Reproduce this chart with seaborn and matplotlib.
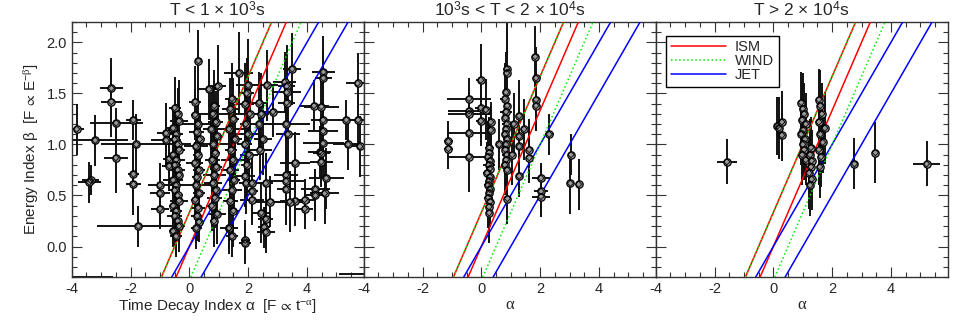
import numpy as np
import pandas as pd
import matplotlib
matplotlib.use('Agg')
import matplotlib.pyplot as plt
from matplotlib.lines import Line2D
from matplotlib.ticker import MultipleLocator
import seaborn as sns

# ---- panel 1 : T < 1e3 s  (alpha, beta, alpha err, beta err) ----
p1_alpha = [-3.83, -3.20, -2.65, -2.65, -2.49, -1.90, -1.80, -2.50, -3.36, -3.40,
            -1.90, -1.90, -1.00, -1.00, -1.00, -1.73, -0.79, -0.79, -0.68, -0.68,
            -0.50, -0.40, -0.35, -0.55, -0.45, -0.50, -0.40, -0.35, -0.55, -0.45,
            -0.50, -0.40, -0.35, -0.55, -0.45, -0.50, -0.40, -0.35, -0.55, -0.45,
            -0.50, -0.40, -0.35, -0.55, -0.45,
            0.31, 0.20, 0.20, 0.30, 0.25, 0.35, 0.22, 0.28, 0.18, 0.32,
            0.25, 0.23, 0.34, 0.20, 0.30, 0.27, 0.33, 0.24,
            0.96, 0.67, 0.85, 0.80, 0.90, 0.75, 0.95, 0.82, 0.88, 0.78,
            0.92, 0.85, 0.80, 0.90, 0.86, 0.76, 0.95, 0.84,
            1.68, 1.45, 1.40, 1.50, 1.35, 1.55, 1.42, 1.48, 1.38, 1.52,
            1.45, 1.40, 1.50, 1.35, 1.45,
            2.00, 1.95, 1.90, 2.05, 1.92, 1.98, 1.88, 2.02, 1.95, 1.90,
            1.93, 2.13, 2.13, 2.13, 1.90, 1.90,
            2.63, 2.38, 2.45, 2.38, 2.50, 2.40, 2.60, 2.76, 2.45, 2.60,
            2.55, 2.60,
            3.24, 3.31, 3.31, 3.31, 3.30, 3.35, 3.60, 3.29, 3.29, 3.29,
            3.60, 3.41, 3.50, 2.84, 3.92, 3.92,
            4.56, 4.56, 4.24, 4.49, 4.55, 4.55, 4.55, 4.43, 4.49, 4.49,
            4.66, 4.29, 4.29, 4.60,
            5.72, 5.40, 5.80, 5.74, 5.34, 1.35, -4.50, 6.30]
p1_beta = [1.15, 1.04, 1.55, 1.42, 1.21, 1.24, 1.00, 0.87, 0.65, 0.63,
           0.71, 0.61, 0.60, 0.52, 0.37, 0.20, 1.11, 1.04, 0.86, 0.79,
           1.36, 1.30, 1.23, 1.16, 1.10, 1.05, 1.00, 0.95, 0.90, 0.85,
           0.80, 0.75, 0.70, 0.65, 0.60, 0.55, 0.50, 0.45, 0.40, 0.35,
           0.30, 0.25, 0.20, 0.15, 0.10,
           1.82, 1.42, 1.29, 1.20, 1.12, 1.05, 0.98, 0.90, 0.82, 0.75,
           0.68, 0.60, 0.52, 0.46, 0.38, 0.30, 0.24, 0.18,
           1.57, 1.54, 1.38, 1.30, 1.22, 1.15, 1.08, 1.00, 0.92, 0.85,
           0.78, 0.70, 0.62, 0.55, 0.48, 0.40, 0.32, 0.25,
           1.70, 1.45, 1.35, 1.25, 1.15, 1.05, 0.95, 0.85, 0.75, 0.65,
           0.55, 0.45, 0.35, 0.18, 0.10,
           1.58, 1.50, 1.40, 1.30, 1.20, 1.10, 1.00, 0.90, 0.80, 0.69,
           0.62, 0.62, 0.54, 0.46, 0.06, 0.03,
           1.58, 1.41, 1.30, 1.20, 1.05, 0.95, 0.62, 0.44, 0.33, 0.27,
           0.19, 0.14,
           1.61, 1.57, 1.51, 1.41, 1.20, 1.10, 0.82, 0.70, 0.64, 0.56,
           0.45, 0.44, 1.74, 1.32, 0.46, 0.37,
           1.71, 1.65, 1.38, 1.37, 1.24, 1.13, 1.01, 0.93, 0.92, 0.83,
           0.67, 0.56, 0.50, 0.52,
           1.60, 1.00, 0.98, 1.24, 1.24, 0.18, -0.295, -0.27]
p1_aerr = [0.25, 1.10, 0.40, 0.35, 0.90, 0.25, 1.20, 0.40, 0.30, 0.40,
           0.20, 0.25, 0.40, 0.35, 0.30, 1.40, 0.30, 0.50, 0.20, 0.25,
           0.20, 0.15, 0.30, 0.20, 0.25, 0.15, 0.45, 0.20, 0.15, 0.30,
           0.20, 0.25, 0.15, 0.35, 0.20, 0.15, 0.20, 0.30, 0.15, 0.20,
           0.25, 0.15, 0.20, 0.15, 0.20,
           0.10, 0.20, 0.15, 0.60, 0.25, 0.20, 0.40, 0.15, 0.30, 0.20,
           0.15, 0.50, 0.20, 0.15, 0.25, 0.20, 0.15, 0.20,
           0.30, 0.40, 0.20, 0.60, 0.25, 0.30, 0.20, 0.50, 0.15, 0.25,
           0.20, 0.40, 0.30, 0.15, 0.25, 0.20, 0.30, 0.15,
           0.50, 0.25, 0.30, 0.20, 0.60, 0.25, 0.20, 0.40, 0.30, 0.20,
           0.35, 0.25, 0.20, 0.30, 0.20,
           0.40, 0.25, 0.30, 0.50, 0.20, 0.40, 0.25, 0.30, 0.20, 0.35,
           0.25, 0.30, 0.20, 0.40, 0.15, 0.20,
           0.40, 0.30, 0.25, 0.50, 0.30, 0.40, 0.25, 0.60, 0.30, 0.25,
           0.20, 0.30,
           0.40, 0.30, 0.50, 0.30, 0.80, 0.40, 0.50, 0.40, 0.60, 0.30,
           0.50, 0.70, 0.30, 0.40, 0.35, 0.30,
           0.40, 0.30, 0.50, 0.60, 0.40, 0.50, 0.70, 0.40, 0.30, 0.40,
           0.60, 0.50, 0.40, 0.50,
           0.40, 0.50, 0.40, 0.30, 0.40, 0.20, 1.90, 1.20]
p1_berr = [0.25, 0.25, 0.30, 0.35, 0.15, 0.20, 0.30, 0.35, 0.15, 0.20,
           0.30, 0.30, 0.15, 0.30, 0.20, 0.20, 0.30, 0.25, 0.30, 0.25,
           0.30, 0.25, 0.40, 0.20, 0.30, 0.35, 0.25, 0.30, 0.40, 0.20,
           0.30, 0.25, 0.35, 0.30, 0.20, 0.25, 0.40, 0.30, 0.20, 0.25,
           0.30, 0.20, 0.25, 0.15, 0.20,
           0.30, 0.35, 0.25, 0.40, 0.30, 0.25, 0.35, 0.30, 0.20, 0.30,
           0.25, 0.30, 0.35, 0.20, 0.30, 0.25, 0.20, 0.20,
           0.40, 0.30, 0.35, 0.25, 0.30, 0.40, 0.30, 0.25, 0.35, 0.30,
           0.25, 0.30, 0.20, 0.35, 0.30, 0.25, 0.30, 0.25,
           0.40, 0.35, 0.30, 0.40, 0.30, 0.35, 0.25, 0.30, 0.35, 0.30,
           0.25, 0.30, 0.35, 0.20, 0.20,
           0.45, 0.35, 0.40, 0.30, 0.35, 0.30, 0.40, 0.30, 0.35, 0.30,
           0.30, 0.25, 0.30, 0.25, 0.20, 0.20,
           0.35, 0.30, 0.40, 0.30, 0.35, 0.30, 0.30, 0.25, 0.30, 0.25,
           0.20, 0.20,
           0.30, 0.40, 0.30, 0.35, 0.30, 0.40, 0.30, 0.25, 0.30, 0.35,
           0.25, 0.30, 0.35, 0.25, 0.20, 0.20,
           0.35, 0.30, 0.25, 0.30, 0.40, 0.30, 0.35, 0.25, 0.30, 0.25,
           0.30, 0.20, 0.25, 0.30,
           0.30, 0.25, 0.30, 0.25, 0.20, 0.25, 0.0, 0.0]

# ---- panel 2 : 1e3 s < T < 2e4 s ----
p2_alpha = [-0.02, 0.86, 0.86, 1.83, -0.42, -0.42, -0.42, -0.02, 0.15, -0.02,
            0.32, 0.32, -0.42, -1.12, -1.12, -0.42, 0.27, 0.61,
            0.27, 0.22, 0.30, 0.25, 0.28, 0.20, 0.30, 0.26, 0.23, 0.29,
            0.27, 0.24, 0.30, 0.26, 0.27,
            0.84, 0.80, 0.88, 0.84, 0.82, 0.86, 0.84, 0.80, 0.88, 0.84,
            0.82, 0.86, 0.84, 0.80, 0.88, 0.89,
            1.29, 1.29, 1.29, 1.29, 1.63, 1.63, 1.86, 1.86, 1.86, 2.31,
            2.03, 2.03, 2.03, 3.03, 3.31, 3.05, 1.10, 1.05, 1.45]
p2_beta = [1.63, 1.74, 1.70, 1.86, 1.45, 1.33, 1.30, 1.36, 1.34, 1.23,
           1.22, 1.14, 1.11, 1.03, 0.96, 0.88, 0.97, 1.00,
           0.92, 0.88, 0.84, 0.80, 0.76, 0.72, 0.68, 0.64, 0.60, 0.56,
           0.52, 0.48, 0.44, 0.39, 0.33,
           1.51, 1.45, 1.38, 1.32, 1.26, 1.20, 1.15, 1.10, 1.05, 1.00,
           0.95, 0.90, 0.85, 0.80, 0.75, 0.47,
           1.28, 1.08, 0.98, 0.69, 0.95, 0.87, 1.65, 1.44, 1.38, 1.10,
           0.67, 0.54, 0.49, 0.62, 0.61, 0.90, 1.20, 0.90, 1.15]
p2_aerr = [0.15, 0.10, 0.10, 0.10, 0.75, 0.70, 0.70, 0.20, 0.15, 0.15,
           0.10, 0.10, 0.75, 0.15, 0.15, 0.70, 0.15, 0.10,
           0.10, 0.15, 0.10, 0.20, 0.10, 0.15, 0.10, 0.10, 0.15, 0.10,
           0.10, 0.15, 0.10, 0.10, 0.10,
           0.10, 0.15, 0.10, 0.20, 0.10, 0.15, 0.10, 0.10, 0.15, 0.10,
           0.10, 0.15, 0.10, 0.10, 0.10, 0.10,
           0.10, 0.10, 0.10, 0.10, 0.10, 0.10, 0.10, 0.10, 0.10, 0.15,
           0.30, 0.25, 0.30, 0.10, 0.10, 0.10, 0.10, 0.10, 0.10]
p2_berr = [0.35, 0.45, 0.40, 0.30, 0.20, 0.20, 0.15, 0.30, 0.30, 0.25,
           0.20, 0.20, 0.40, 0.20, 0.20, 0.35, 0.30, 0.25,
           0.30, 0.35, 0.30, 0.25, 0.35, 0.30, 0.25, 0.30, 0.35, 0.30,
           0.25, 0.30, 0.25, 0.30, 0.30,
           0.40, 0.35, 0.30, 0.40, 0.35, 0.30, 0.35, 0.30, 0.40, 0.30,
           0.35, 0.30, 0.25, 0.30, 0.25, 0.25,
           0.35, 0.30, 0.30, 0.20, 0.30, 0.25, 0.30, 0.30, 0.25, 0.20,
           0.15, 0.25, 0.20, 0.30, 0.25, 0.20, 0.30, 0.30, 0.30]

# ---- panel 3 : T > 2e4 s ----
p3_alpha = [-1.58, 0.14, 0.20, 0.29, 0.29,
            0.95, 1.00, 1.05, 0.98, 1.10, 1.02, 0.95, 1.08, 1.00, 1.05,
            0.98, 1.10,
            1.28, 1.25, 1.30, 1.28, 1.22, 1.30, 1.25,
            1.55, 1.60, 1.65, 1.55, 1.75, 1.60, 1.68, 1.55, 1.62, 1.58,
            2.76, 3.47, 5.21]
p3_beta = [0.83, 1.18, 1.16, 1.22, 1.09,
           1.41, 1.35, 1.30, 1.24, 1.20, 1.14, 1.10, 1.05, 1.00, 0.95,
           0.90, 0.85,
           0.97, 0.90, 0.84, 0.78, 0.72, 0.66, 0.60,
           1.44, 1.38, 1.30, 1.22, 1.16, 1.10, 1.02, 0.95, 0.88, 0.78,
           0.81, 0.92, 0.81]
p3_aerr = [0.34, 0.05, 0.05, 0.05, 0.05,
           0.05, 0.08, 0.05, 0.05, 0.05, 0.08, 0.05, 0.05, 0.05, 0.05,
           0.05, 0.05,
           0.05, 0.05, 0.05, 0.05, 0.05, 0.05, 0.05,
           0.05, 0.05, 0.05, 0.05, 0.05, 0.05, 0.05, 0.05, 0.05, 0.05,
           0.05, 0.05, 0.45]
p3_berr = [0.22, 0.28, 0.30, 0.30, 0.25,
           0.30, 0.35, 0.30, 0.40, 0.30, 0.35, 0.30, 0.30, 0.35, 0.30,
           0.30, 0.25,
           0.30, 0.35, 0.30, 0.30, 0.35, 0.30, 0.30,
           0.30, 0.35, 0.30, 0.30, 0.35, 0.30, 0.30, 0.35, 0.30, 0.30,
           0.25, 0.30, 0.22]

# closure relations  alpha = slope * beta + offset
rel_model = ['ISM', 'ISM', 'JET', 'JET', 'WIND', 'WIND']
rel_slope = [1.5, 1.5, 2.0, 2.0, 1.5, 1.5]
rel_offset = [-0.5, 0.0, 0.0, 1.0, -0.5, 0.5]
beta_range = [-0.3, 2.2]

titles = [r'T < 1 $\times$ 10$^3$s',
          r'10$^3$s < T < 2 $\times$ 10$^4$s',
          r'T > 2 $\times$ 10$^4$s']

model_color = {'ISM': 'red', 'WIND': '#00ee00', 'JET': 'blue'}
model_ls = {'ISM': '-', 'WIND': ':', 'JET': '-'}

sns.set_style('ticks')
plt.rcParams['font.family'] = ['Liberation Sans', 'DejaVu Sans']
plt.rcParams['axes.unicode_minus'] = False
plt.rcParams['mathtext.fontset'] = 'custom'
plt.rcParams['mathtext.rm'] = 'Liberation Sans'
plt.rcParams['mathtext.it'] = 'Liberation Serif'
plt.rcParams['mathtext.fallback'] = 'stix'

fig, axes = plt.subplots(1, 3, figsize=(9.69, 3.23), dpi=100, sharey=True)
fig.subplots_adjust(left=0.074, right=0.978, bottom=0.142, top=0.932, wspace=0)

panels = [(p1_alpha, p1_beta, p1_aerr, p1_berr),
          (p2_alpha, p2_beta, p2_aerr, p2_berr),
          (p3_alpha, p3_beta, p3_aerr, p3_berr)]

for i, (ax, (a, b, ae, be)) in enumerate(zip(axes, panels)):
    # theory lines
    for m, s, o in zip(rel_model, rel_slope, rel_offset):
        bb = np.array(beta_range)
        aa = s * bb + o
        sns.lineplot(x=aa, y=bb, sort=False, ax=ax, color=model_color[m],
                     linestyle=model_ls[m], linewidth=1.1, zorder=3)
    df = pd.DataFrame({'alpha': a, 'beta': b})
    ax.errorbar(a, b, xerr=ae, yerr=be, fmt='none', ecolor='#111111',
                elinewidth=1.4, capsize=0, zorder=2)
    sns.scatterplot(data=df, x='alpha', y='beta', ax=ax, marker='o', s=28,
                    color='#9a9a9a', edgecolor='black', linewidth=0.9, zorder=4)
    sns.scatterplot(data=df, x='alpha', y='beta', ax=ax, marker='D', s=10,
                    color='none', edgecolor='black', linewidth=0.6, zorder=5)

    ax.set_xlim(-4, 5.93)
    ax.set_ylim(-0.3, 2.2)
    ax.set_xticks([-4, -2, 0, 2, 4])
    ax.xaxis.set_minor_locator(MultipleLocator(0.5))
    ax.yaxis.set_major_locator(MultipleLocator(0.5))
    ax.yaxis.set_minor_locator(MultipleLocator(0.1))
    ax.tick_params(which='both', direction='in', top=True, right=True,
                   labelsize=10.5, color='#333333', width=0.8)
    ax.tick_params(which='major', length=7)
    ax.tick_params(which='minor', length=3.5)
    for sp in ax.spines.values():
        sp.set_color('#333333')
        sp.set_linewidth(1.0)
    ax.set_title(titles[i], fontsize=12.5, pad=4)
    ax.set_ylabel('')
    if i == 0:
        ax.set_xlabel(r'Time Decay Index α  [F$\,\propto\,$t$^{-α}$]', fontsize=11, labelpad=1)
        ax.set_ylabel(r'Energy Index β  [F$\,\propto\,$E$^{-β}$]', fontsize=11, labelpad=4)
    else:
        ax.set_xlabel('α', fontsize=12, labelpad=1, family='Liberation Serif')

handles = [Line2D([], [], color=model_color[m], linestyle=model_ls[m], linewidth=1.1)
           for m in ['ISM', 'WIND', 'JET']]
leg = axes[2].legend(handles, ['ISM', 'WIND', 'JET'], loc='upper left',
                     fontsize=10.5, fancybox=False, framealpha=1, edgecolor='black',
                     handlelength=3.8, handletextpad=0.6, borderpad=0.3,
                     labelspacing=0.0, borderaxespad=0,
                     bbox_to_anchor=(0.037, 0.945))
leg.get_frame().set_linewidth(1.0)

fig.savefig('out.png', dpi=100)
